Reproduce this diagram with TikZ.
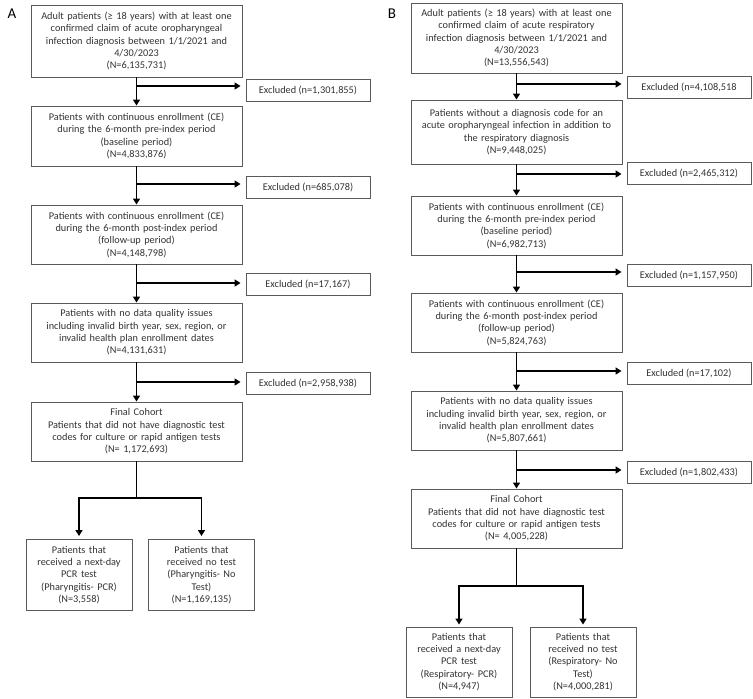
\documentclass[tikz,border=0pt]{standalone}
\usepackage{fontspec}
\setmainfont{Carlito}
\usetikzlibrary{arrows.meta}
\definecolor{boxc}{HTML}{5A5A5A}
\definecolor{txtc}{HTML}{333333}
\begin{document}
\begin{tikzpicture}[x=1pt,y=-1pt,
  every node/.style={font=\fontsize{10.3}{12.3}\selectfont, text=txtc},
  mainbox/.style={draw=boxc, line width=0.9pt, align=center, inner sep=0pt,
     minimum width=211pt, text width=207pt},
  smallbox/.style={draw=boxc, line width=0.9pt, align=center, inner sep=0pt,
     minimum width=106pt, text width=104pt, minimum height=71pt},
  exbox/.style={draw=boxc, line width=0.9pt, align=center, inner sep=0pt,
     minimum width=124pt, minimum height=22pt},
  arr/.style={line width=1.5pt, -{Triangle[width=7pt,length=6pt]}},
  ln/.style={line width=1.5pt},
  plab/.style={font=\fontsize{15}{17}\selectfont, text=black}
]
\useasboundingbox (0,0) rectangle (753,699);

% ---------------- Panel A ----------------
\node[plab] (labA) at (12,14) {A};
\node[mainbox, minimum height=72pt] (A1) at (136.5,41) {Adult patients (≥ 18 years) with at least one\\confirmed claim of acute oropharyngeal\\infection diagnosis between 1/1/2021 and\\4/30/2023\\(N=6,135,731)};
\node[mainbox, minimum height=60pt] (A2) at (136.5,136) {Patients with continuous enrollment (CE)\\during the 6-month pre-index period\\(baseline period)\\(N=4,833,876)};
\node[mainbox, minimum height=59pt] (A3) at (136.5,234.5) {Patients with continuous enrollment (CE)\\during the 6-month post-index period\\(follow-up period)\\(N=4,148,798)};
\node[mainbox, minimum height=59pt] (A4) at (136.5,332.5) {Patients with no data quality issues\\including invalid birth year, sex, region, or\\invalid health plan enrollment dates\\(N=4,131,631)};
\node[mainbox, minimum height=59pt] (A5) at (136.5,431.5) {Final Cohort\\Patients that did not have diagnostic test\\codes for culture or rapid antigen tests\\(N= 1,172,693)};
\node[smallbox] (A6) at (79,575) {Patients that\\received a next-day\\PCR test\\(Pharyngitis- PCR)\\(N=3,558)};
\node[smallbox] (A7) at (201.5,575) {Patients that\\received no test\\(Pharyngitis- No\\Test)\\(N=1,169,135)};

\node[exbox] (EA1) at (308,90) {Excluded (n=1,301,855)};
\node[exbox] (EA2) at (308,187.5) {Excluded (n=685,078)};
\node[exbox] (EA3) at (308,284.5) {Excluded (n=17,167)};
\node[exbox] (EA4) at (308,383) {Excluded (n=2,958,938)};

\draw[arr] (A1.south) -- (A2.north);
\draw[arr] (A2.south) -- (A3.north);
\draw[arr] (A3.south) -- (A4.north);
\draw[arr] (A4.south) -- (A5.north);

\coordinate (bA1) at (136.5,86);
\coordinate (bA2) at (136.5,184);
\coordinate (bA3) at (136.5,283);
\coordinate (bA4) at (136.5,382);
\draw[arr, shorten >=5pt] (bA1) -- (bA1 -| EA1.west);
\draw[arr, shorten >=5pt] (bA2) -- (bA2 -| EA2.west);
\draw[arr, shorten >=5pt] (bA3) -- (bA3 -| EA3.west);
\draw[arr, shorten >=5pt] (bA4) -- (bA4 -| EA4.west);

\coordinate (sA) at (136.5,498);
\draw[ln] (A5.south) -- (sA);
\draw[arr, shorten >=3pt] (sA) -| (A6.north);
\draw[arr, shorten >=3pt] (sA) -| (A7.north);

% ---------------- Panel B ----------------
\node[plab] (labB) at (392,14) {B};
\node[mainbox, minimum height=70pt] (B1) at (516.5,38) {Adult patients (≥ 18 years) with at least one\\confirmed claim of acute respiratory\\infection diagnosis between 1/1/2021 and\\4/30/2023\\(N=13,556,543)};
\node[mainbox, minimum height=64pt] (B2) at (516.5,132) {Patients without a diagnosis code for an\\acute oropharyngeal infection in addition to\\the respiratory diagnosis\\(N=9,448,025)};
\node[mainbox, minimum height=59pt] (B3) at (516.5,225.5) {Patients with continuous enrollment (CE)\\during the 6-month pre-index period\\(baseline period)\\(N=6,982,713)};
\node[mainbox, minimum height=59pt] (B4) at (516.5,322.5) {Patients with continuous enrollment (CE)\\during the 6-month post-index period\\(follow-up period)\\(N=5,824,763)};
\node[mainbox, minimum height=59pt] (B5) at (516.5,420.5) {Patients with no data quality issues\\including invalid birth year, sex, region, or\\invalid health plan enrollment dates\\(N=5,807,661)};
\node[mainbox, minimum height=59pt] (B6) at (516.5,518.5) {Final Cohort\\Patients that did not have diagnostic test\\codes for culture or rapid antigen tests\\(N= 4,005,228)};
\node[smallbox, minimum height=70pt] (B7) at (459,662) {Patients that\\received a next-day\\PCR test\\(Respiratory- PCR)\\(N=4,947)};
\node[smallbox, minimum height=70pt] (B8) at (583,662) {Patients that\\received no test\\(Respiratory- No\\Test)\\(N=4,000,281)};

\node[exbox] (EB1) at (689,87.5) {Excluded (n=4,108,518};
\node[exbox] (EB2) at (689,173) {Excluded (n=2,465,312)};
\node[exbox] (EB3) at (689,275.5) {Excluded (n=1,157,950)};
\node[exbox] (EB4) at (689,373) {Excluded (n=17,102)};
\node[exbox] (EB5) at (689,472) {Excluded (n=1,802,433)};

\draw[arr] (B1.south) -- (B2.north);
\draw[arr] (B2.south) -- (B3.north);
\draw[arr] (B3.south) -- (B4.north);
\draw[arr] (B4.south) -- (B5.north);
\draw[arr] (B5.south) -- (B6.north);

\coordinate (bB1) at (516.5,84);
\coordinate (bB2) at (516.5,174);
\coordinate (bB3) at (516.5,272);
\coordinate (bB4) at (516.5,371);
\coordinate (bB5) at (516.5,470);
\draw[arr, shorten >=5pt] (bB1) -- (bB1 -| EB1.west);
\draw[arr, shorten >=5pt] (bB2) -- (bB2 -| EB2.west);
\draw[arr, shorten >=5pt] (bB3) -- (bB3 -| EB3.west);
\draw[arr, shorten >=5pt] (bB4) -- (bB4 -| EB4.west);
\draw[arr, shorten >=5pt] (bB5) -- (bB5 -| EB5.west);

\coordinate (sB) at (516.5,586);
\draw[ln] (B6.south) -- (sB);
\draw[arr, shorten >=2pt] (sB) -| (B7.north);
\draw[arr, shorten >=2pt] (sB) -| (B8.north);
\end{tikzpicture}
\end{document}
